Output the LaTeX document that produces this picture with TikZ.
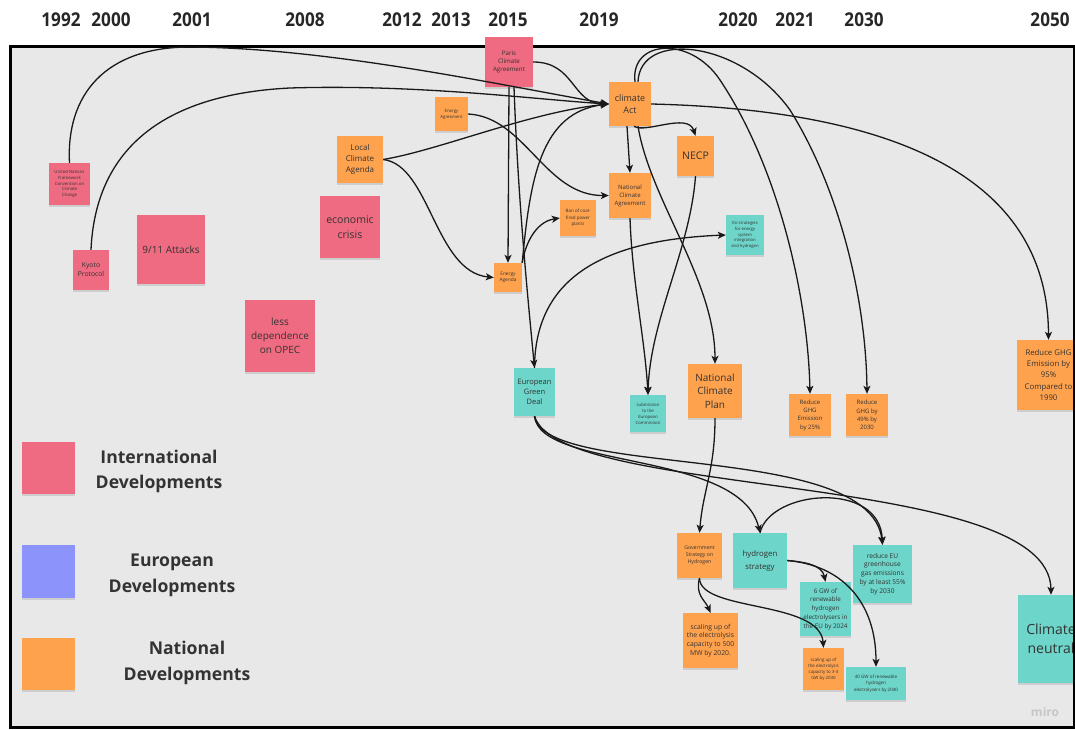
\documentclass[tikz,border=0pt]{standalone}
\usepackage{fontspec}
\setmainfont{Open Sans}
\newfontfamily\yearfont{Open Sans}[FakeStretch=0.9]
\usetikzlibrary{arrows.meta,shadows,calc}
\definecolor{notepink}{HTML}{EF6B81}
\definecolor{noteorange}{HTML}{FFA24E}
\definecolor{noteteal}{HTML}{6DD5C9}
\definecolor{noteblue}{HTML}{8C94FB}
\definecolor{boardgray}{HTML}{E8E8E8}
\definecolor{inkgray}{HTML}{333333}
\newcommand\fsz[2]{\fontsize{#1}{#2}\selectfont}
\begin{document}
\begin{tikzpicture}[x=1pt,y=-1pt,
  note/.style={rectangle, inner sep=0.5pt, align=center, text=inkgray,
    drop shadow={shadow xshift=0pt, shadow yshift=-1.8pt, opacity=0.25}},
  pinknote/.style={note, fill=notepink},
  orangenote/.style={note, fill=noteorange},
  tealnote/.style={note, fill=noteteal},
  sz/.style 2 args={minimum width=#1pt, minimum height=#2pt},
  yearlabel/.style={font=\yearfont\bfseries\fsz{19}{22}, text=black!85},
  legendtext/.style={font=\bfseries\fsz{17.6}{25.5}, text=inkgray, align=center},
  link/.style={draw=black!90, line width=1.3pt, -{Stealth[length=8pt,width=7pt,inset=2pt]}},
]
\useasboundingbox (0,0) rectangle (1075,730);

% board
\fill[boardgray] (10,47) rectangle (1074,727);
\draw[line width=3pt] (10,47) rectangle (1074,727);

% timeline years
\node[yearlabel] (y1992) at (61,20) {1992};
\node[yearlabel] (y2000) at (111,20) {2000};
\node[yearlabel] (y2001) at (192,20) {2001};
\node[yearlabel] (y2008) at (305,20) {2008};
\node[yearlabel] (y2012) at (402,20) {2012};
\node[yearlabel] (y2013) at (451,20) {2013};
\node[yearlabel] (y2015) at (508,20) {2015};
\node[yearlabel] (y2019) at (599,20) {2019};
\node[yearlabel] (y2020) at (738,20) {2020};
\node[yearlabel] (y2021) at (795,20) {2021};
\node[yearlabel] (y2030) at (864,20) {2030};
\node[yearlabel] (y2050) at (1050,20) {2050};

% international developments
\node[pinknote, sz={48}{50}, font=\fsz{6.2}{8.4}] (paris) at (509,62) {Paris\\Climate\\Agreement};
\node[pinknote, sz={41}{42}, font=\fsz{4.3}{5.8}] (unfccc) at (69.5,184) {United Nations\\Framework\\Convention on\\Climate\\Change};
\node[pinknote, sz={36}{40}, font=\fsz{6.8}{9}] (kyoto) at (91,270) {Kyoto\\Protocol};
\node[pinknote, sz={68}{69}, font=\fsz{10}{13}] (attacks) at (171,249.5) {9/11 Attacks};
\node[pinknote, sz={70}{72}, font=\fsz{10}{14}] (opec) at (280,336) {less\\dependence\\on OPEC};
\node[pinknote, sz={60}{62}, font=\fsz{10.5}{15}] (crisis) at (350,227) {economic\\crisis};

% national developments
\node[orangenote, sz={46}{47}, font=\fsz{8}{11}] (localagenda) at (360,159.5) {Local\\Climate\\Agenda};
\node[orangenote, sz={33}{34}, font=\fsz{4.3}{6}] (energyagreement) at (451.5,114) {Energy\\Agreement};
\node[orangenote, sz={28}{29}, font=\fsz{4.8}{6.5}] (energyagenda) at (508,277.5) {Energy\\Agenda};
\node[orangenote, sz={36}{36}, font=\fsz{4.5}{6.2}] (bancoal) at (578,218) {Ban of coal-\\fired power\\plants};
\node[orangenote, sz={42}{44}, font=\fsz{9}{12.5}] (climateact) at (630,104) {climate\\Act};
\node[orangenote, sz={37}{40}, font=\fsz{10.5}{13}] (necp) at (695.5,156) {NECP};
\node[orangenote, sz={42}{45}, font=\fsz{6}{8}] (nca) at (630,195.5) {National\\Climate\\Agreement};
\node[orangenote, sz={54}{54}, font=\fsz{10}{13.5}] (ncp) at (715,391) {National\\Climate\\Plan};
\node[orangenote, sz={42}{42}, font=\fsz{6}{8.3}] (ghg25) at (810,415) {Reduce\\GHG\\Emission\\by 25\%};
\node[orangenote, sz={42}{42}, font=\fsz{6}{8.3}] (ghg49) at (867,415) {Reduce\\GHG by\\49\% by\\2030};
\node[orangenote, sz={63}{70}, font=\fsz{7.8}{11.3}] (ghg95) at (1048.5,375) {Reduce GHG\\Emission by\\95\%\\Compared to\\1990};
\node[orangenote, sz={45}{45}, font=\fsz{5.2}{7.2}] (govstrat) at (699.5,555.5) {Government\\Strategy on\\Hydrogen};
\node[orangenote, sz={55}{55}, font=\fsz{6.8}{8.8}] (mw500) at (710.5,640.5) {scaling up of\\the electrolysis\\capacity to 500\\MW by 2020.};
\node[orangenote, sz={41}{42}, font=\fsz{4.4}{6}] (gw34) at (823.5,669) {scaling up of\\the electrolysis\\capacity to 3-4\\GW by 2030};

% european developments
\node[tealnote, sz={38}{40}, font=\fsz{4.2}{5.8}] (eustrat) at (745,235) {EU strategies\\for energy\\system\\integration\\and hydrogen};
\node[tealnote, sz={41}{48}, font=\fsz{7.5}{10}] (egd) at (534.5,392) {European\\Green\\Deal};
\node[tealnote, sz={36}{37}, font=\fsz{4.3}{6}] (submission) at (648,413.5) {submission\\to the\\European\\Commission};
\node[tealnote, sz={54}{55}, font=\fsz{7.8}{13}] (h2strat) at (760,560.5) {hydrogen\\strategy};
\node[tealnote, sz={59}{58}, font=\fsz{6.6}{8.8}] (reduceeu) at (882.5,574) {reduce EU\\greenhouse\\gas emissions\\by at least 55\%\\by 2030};
\node[tealnote, sz={51}{54}, font=\fsz{6.3}{8.8}] (gw6) at (825.5,609) {6 GW of\\renewable\\hydrogen\\electrolysers in\\the EU by 2024};
\node[tealnote, sz={60}{33}, font=\fsz{4.5}{6.4}] (gw40) at (876,683.5) {40 GW of renewable\\hydrogen\\electrolysers by 2040};
\node[tealnote, sz={67}{88}, font=\fsz{14}{19}] (neutral) at (1051,639) {Climate\\neutral};

% right edge of the board over the clipped notes
\draw[line width=3pt] (1074,47) -- (1074,727);

% legend
\node[note, fill=notepink, sz={53}{52}] (legint) at (48.5,468) {};
\node[note, fill=noteblue, sz={53}{53}] (legeu) at (48.5,571.5) {};
\node[note, fill=noteorange, sz={53}{52}] (legnat) at (48.5,664) {};
\node[legendtext] (legintlabel) at (159,471.5) {International\\Developments};
\node[legendtext] (legeulabel) at (172,575.5) {European\\Developments};
\node[legendtext] (legnatlabel) at (187,663) {National\\Developments};

% board watermark
\node[font=\bfseries\fsz{12}{14}, text=black!22] (boardmark) at (1045,712) {miro};

% connectors
\draw[link] (unfccc.north) .. controls (66,95) and (105,47) .. (190,47) .. controls (330,48) and (500,85) .. (climateact.west);
\draw[link] (kyoto.north) .. controls (95,160) and (150,95) .. (290,88) .. controls (420,84) and (540,100) .. (climateact.west);
\draw[link] (paris.east) .. controls (575,62) and (572,104) .. (climateact.west);
\draw[link] (localagenda.east) .. controls (440,150) and (530,112) .. (climateact.west);
\draw[link] (localagenda.east) .. controls (430,165) and (435,272) .. (energyagenda.west);
\draw[link] (energyagreement.east) .. controls (525,117) and (545,196) .. (nca.west);
\draw[link] (paris.south) -- (energyagenda.north);
\draw[link] ($(paris.south)+(5,0)$) .. controls (518,200) and (528,300) .. (egd.north);
\draw[link] (energyagenda.north east) .. controls (525,245) and (535,222) .. (bancoal.west);
\draw[link] (energyagenda.north east) .. controls (530,180) and (540,112) .. (climateact.west);
\draw[link] ($(climateact.south)+(4,0)$) .. controls (645,134) and (688,112) .. (necp.north);
\draw[link] ($(climateact.south)+(-3,0)$) -- (nca.north);
\draw[link] ($(climateact.south)+(8,0)$) .. controls (650,200) and (715,280) .. (ncp.north);
\draw[link] (necp.south) .. controls (690,250) and (650,320) .. (submission.north);
\draw[link] (nca.south) .. controls (632,280) and (645,340) .. (submission.north);
\draw[link] ($(climateact.north)+(5,0)$) .. controls (630,40) and (690,35) .. (720,80) .. controls (780,170) and (808,300) .. (ghg25.north);
\draw[link] ($(climateact.north)+(8,0)$) .. controls (640,30) and (740,40) .. (790,110) .. controls (840,190) and (866,300) .. (ghg49.north);
\draw[link] (climateact.east) .. controls (900,110) and (1048,180) .. (ghg95.north);
\draw[link] (egd.north) .. controls (535,280) and (600,240) .. (eustrat.west);
\draw[link] (ncp.south) .. controls (715,470) and (703,490) .. (govstrat.north);
\draw[link] (egd.south) .. controls (540,470) and (740,450) .. (h2strat.north);
\draw[link] (egd.south) .. controls (545,480) and (870,440) .. (reduceeu.north);
\draw[link] (egd.south) .. controls (560,500) and (1050,470) .. (neutral.north);
\draw[link] (h2strat.north) .. controls (770,490) and (880,480) .. (reduceeu.north);
\draw[link] (h2strat.east) .. controls (805,562) and (822,565) .. (gw6.north);
\draw[link] (h2strat.east) .. controls (840,565) and (876,600) .. (gw40.north);
\draw[link] (govstrat.south) .. controls (695,595) and (705,600) .. (mw500.north);
\draw[link] (govstrat.south) .. controls (700,612) and (820,600) .. (gw34.north);
\end{tikzpicture}
\end{document}
